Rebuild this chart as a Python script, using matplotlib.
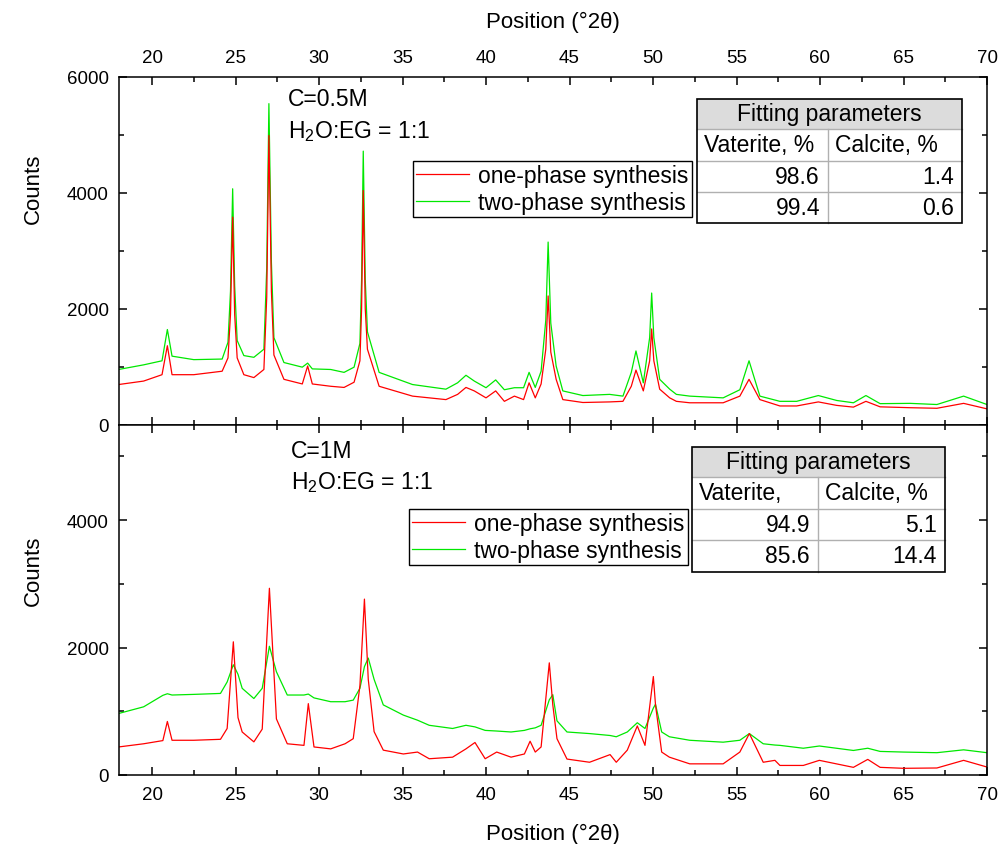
import numpy as np
import matplotlib
matplotlib.use('Agg')
import matplotlib.pyplot as plt
from matplotlib.patches import Rectangle
from matplotlib.lines import Line2D
from matplotlib.ticker import MultipleLocator

plt.rcParams['font.family'] = ['Liberation Sans', 'DejaVu Sans']
plt.rcParams['mathtext.default'] = 'regular'

# ---- data: 2theta positions and counts ----
# C = 0.5M
x_05 = [18.0, 19.5, 20.6, 20.92, 21.2, 22.5, 24.2, 24.55, 24.7, 24.83, 24.95, 25.1, 25.5, 26.1, 26.7,
        26.87, 27.0, 27.15, 27.3, 27.9, 29.0, 29.32, 29.6, 30.7, 31.5, 32.1, 32.45, 32.55, 32.65, 32.77,
        32.9, 33.6, 35.6, 37.6, 38.3, 38.8, 39.3, 40.0, 40.58, 41.1, 41.7, 42.25, 42.58, 42.95, 43.3,
        43.58, 43.72, 43.88, 44.2, 44.6, 45.8, 47.4, 48.2, 48.7, 48.98, 49.42, 49.8, 49.92, 50.05, 50.4,
        51.0, 51.4, 52.2, 54.2, 55.2, 55.75, 56.4, 57.6, 58.6, 59.9, 61.0, 62.0, 62.75, 63.6, 65.4,
        67.0, 68.6, 70.0]
one_05 = [690, 750, 860, 1360, 860, 860, 920, 1150, 1900, 3580, 1900, 1150, 860, 810, 950,
          2200, 4990, 2300, 1200, 780, 700, 1010, 700, 660, 640, 730, 1100, 2000, 4040, 2000,
          1300, 660, 490, 430, 520, 640, 580, 460, 580, 400, 490, 430, 720, 460, 700,
          1300, 2220, 1250, 780, 430, 380, 390, 400, 660, 940, 580, 1100, 1650, 1100, 610,
          460, 400, 375, 375, 490, 780, 430, 320, 320, 390, 330, 300, 400, 305, 290,
          280, 365, 270]
two_05 = [950, 1030, 1100, 1640, 1180, 1120, 1130, 1420, 2300, 4070, 2400, 1450, 1190, 1160, 1300,
          2700, 5540, 2800, 1500, 1070, 990, 1060, 960, 950, 900, 990, 1400, 2500, 4720, 2500,
          1600, 900, 690, 610, 720, 850, 750, 635, 770, 600, 635, 635, 900, 640, 920,
          1800, 3150, 1750, 1010, 580, 500, 520, 490, 900, 1270, 720, 1500, 2270, 1500, 780,
          610, 520, 490, 460, 600, 1100, 490, 400, 400, 500, 415, 375, 500, 360, 365,
          345, 490, 345]

# C = 1M
x_1 = [18.0, 19.5, 20.65, 20.92, 21.2, 22.5, 24.1, 24.5, 24.87, 25.15, 25.4, 26.1, 26.6, 27.03, 27.45,
       28.1, 29.1, 29.36, 29.7, 30.7, 31.56, 32.05, 32.45, 32.72, 32.95, 33.3, 33.85, 35.05, 35.9, 36.6,
       38.0, 38.8, 39.34, 39.95, 40.64, 41.5, 42.3, 42.64, 42.95, 43.3, 43.79, 44.0, 44.25, 44.85, 46.2,
       47.43, 47.8, 48.46, 49.06, 49.52, 50.02, 50.15, 50.52, 50.98, 52.2, 54.2, 55.2, 55.77, 56.6, 57.3,
       57.6, 59.0, 59.96, 62.0, 62.86, 63.6, 65.0, 67.0, 68.6, 70.0]
one_1 = [440, 490, 540, 840, 545, 545, 560, 730, 2090, 900, 675, 520, 720, 2930, 880,
         490, 465, 1120, 440, 410, 490, 570, 1400, 2760, 1500, 680, 390, 330, 360, 255,
         280, 410, 510, 255, 360, 280, 330, 530, 360, 440, 1760, 1100, 570, 250, 200,
         320, 200, 390, 770, 465, 1545, 1100, 360, 280, 175, 175, 360, 650, 200, 230,
         150, 150, 230, 120, 245, 120, 105, 110, 230, 125]
two_1 = [965, 1070, 1250, 1275, 1255, 1265, 1280, 1460, 1730, 1580, 1360, 1200, 1360, 2020, 1620,
         1255, 1255, 1270, 1210, 1150, 1150, 1175, 1360, 1700, 1835, 1500, 1100, 940, 860, 780,
         730, 780, 755, 700, 690, 675, 700, 725, 740, 780, 1180, 1260, 850, 675, 650,
         620, 600, 675, 820, 730, 1050, 1110, 675, 600, 545, 515, 545, 650, 490, 470,
         465, 420, 455, 385, 420, 370, 360, 350, 395, 350]

# fitting parameters (Vaterite %, Calcite %)
fit_05 = [['98.6', '1.4'], ['99.4', '0.6']]
fit_1 = [['94.9', '5.1'], ['85.6', '14.4']]
col_05 = ['Vaterite, %', 'Calcite, %']
col_1 = ['Vaterite,', 'Calcite, %']

RED = '#ff0000'
GREEN = '#00e800'
FS = 16.5


def fx(x):
    return x / 1000


def fy(y):
    return 1 - y / 845


fig = plt.figure(figsize=(10, 8.45), dpi=100)
ax1 = fig.add_axes([fx(118.6), fy(425.5), (987 - 118.6) / 1000, (425.5 - 78) / 845])
ax2 = fig.add_axes([fx(118.6), fy(776), (987 - 118.6) / 1000, (776 - 425.5) / 845])


def style(ax, ymax, top_labels):
    ax.set_xlim(18, 70)
    ax.set_ylim(0, ymax)
    ax.xaxis.set_major_locator(MultipleLocator(5))
    ax.xaxis.set_minor_locator(MultipleLocator(2.5))
    ax.yaxis.set_major_locator(MultipleLocator(2000))
    ax.yaxis.set_minor_locator(MultipleLocator(1000))
    ax.tick_params(which='both', direction='in', top=True, right=True, width=1.1,
                   labelsize=13.5, labeltop=top_labels, labelbottom=not top_labels)
    ax.tick_params(which='major', length=6)
    ax.tick_params(which='minor', length=3.5)
    ax.tick_params(axis='x', pad=8)
    ax.tick_params(axis='y', pad=7)
    for s in ax.spines.values():
        s.set_linewidth(1.1)
    ax.set_ylabel('Counts', fontsize=16)


style(ax1, 6000, True)
style(ax2, 5500, False)
ax1.xaxis.set_label_position('top')
ax1.set_xlabel('Position (°2θ)', fontsize=16, labelpad=16)
ax2.set_xlabel('Position (°2θ)', fontsize=16, labelpad=14)
ax1.yaxis.set_label_coords(-0.086, 0.68)
ax2.yaxis.set_label_coords(-0.086, 0.585)

ax1.plot(x_05, two_05, color=GREEN, lw=0.9)
ax1.plot(x_05, one_05, color=RED, lw=0.9)
ax2.plot(x_1, two_1, color=GREEN, lw=0.9)
ax2.plot(x_1, one_1, color=RED, lw=0.9)

ax1.text(0.1945, 0.937, 'C=0.5M', transform=ax1.transAxes, fontsize=FS, va='center')
ax1.text(0.1945, 0.846, 'H$_2$O:EG = 1:1', transform=ax1.transAxes, fontsize=FS, va='center')
ax2.text(0.198, 0.925, 'C=1M', transform=ax2.transAxes, fontsize=FS, va='center')
ax2.text(0.198, 0.836, 'H$_2$O:EG = 1:1', transform=ax2.transAxes, fontsize=FS, va='center')

handles = [Line2D([], [], color=RED, lw=0.9), Line2D([], [], color=GREEN, lw=0.9)]
labels = ['one-phase synthesis', 'two-phase synthesis']
for ax, (lx, ly) in ((ax1, (413, 162)), (ax2, (409, 510))):
    leg = ax.legend(handles, labels, loc='upper left', bbox_to_anchor=(fx(lx), fy(ly)),
                    bbox_transform=fig.transFigure, fontsize=FS, frameon=True, fancybox=False,
                    edgecolor='black', framealpha=1, borderaxespad=0, borderpad=0.15,
                    handlelength=2.3, handletextpad=0.4, labelspacing=0.15)
    leg.get_frame().set_linewidth(1.0)


def draw_table(x0, x1, xd, ys, cols, rows):
    t = fig.transFigure
    kw = dict(transform=t, zorder=20)
    fig.add_artist(Rectangle((fx(x0), fy(ys[4])), fx(x1 - x0), (ys[4] - ys[0]) / 845,
                             facecolor='white', edgecolor='none', **kw))
    fig.add_artist(Rectangle((fx(x0), fy(ys[1])), fx(x1 - x0), (ys[1] - ys[0]) / 845,
                             facecolor='#dcdcdc', edgecolor='none', **kw))
    for y in ys[1:4]:
        fig.add_artist(Line2D([fx(x0), fx(x1)], [fy(y), fy(y)], color='#b0b0b0', lw=1, **kw))
    fig.add_artist(Line2D([fx(xd), fx(xd)], [fy(ys[1]), fy(ys[4])], color='#b0b0b0', lw=1, **kw))
    fig.add_artist(Rectangle((fx(x0), fy(ys[4])), fx(x1 - x0), (ys[4] - ys[0]) / 845,
                             facecolor='none', edgecolor='black', lw=1.2, **kw))
    cy = lambda i: fy((ys[i] + ys[i + 1]) / 2)
    fig.text(fx((x0 + x1) / 2), cy(0), 'Fitting parameters', ha='center', va='center',
             fontsize=FS, zorder=21)
    fig.text(fx(x0 + 7), cy(1), cols[0], ha='left', va='center', fontsize=FS, zorder=21)
    fig.text(fx(xd + 7), cy(1), cols[1], ha='left', va='center', fontsize=FS, zorder=21)
    for i, (v, c) in enumerate(rows):
        fig.text(fx(xd - 8), cy(2 + i), v, ha='right', va='center', fontsize=FS, zorder=21)
        fig.text(fx(x1 - 8), cy(2 + i), c, ha='right', va='center', fontsize=FS, zorder=21)


draw_table(697, 962, 828, [100, 130, 162, 193, 224], col_05, fit_05)
draw_table(692, 945, 818, [448, 478, 510, 541, 573], col_1, fit_1)

fig.savefig('out.png', dpi=100)
